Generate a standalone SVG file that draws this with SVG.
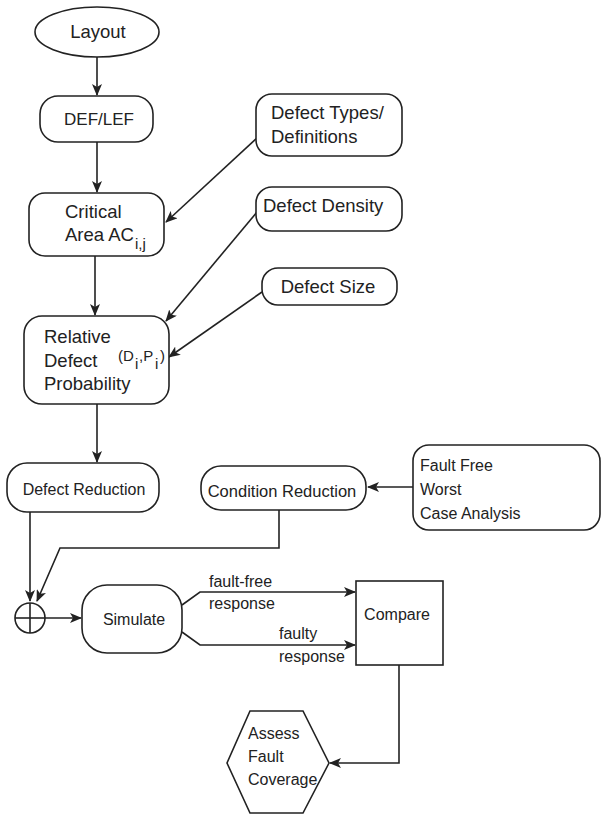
<svg xmlns="http://www.w3.org/2000/svg" width="608" height="817" viewBox="0 0 608 817">
<defs>
<marker id="ah" viewBox="0 0 12 10" refX="11" refY="5" markerWidth="12" markerHeight="10" markerUnits="userSpaceOnUse" orient="auto">
<path d="M0,0 L12,5 L0,10 L3,5 z" fill="#222"/>
</marker>
<style>
.n{fill:#fff;stroke:#222;stroke-width:1.6}
.c{fill:none;stroke:#222;stroke-width:1.6;marker-end:url(#ah)}
.l{fill:none;stroke:#222;stroke-width:1.6}
text{font-family:"Liberation Sans",Arial,sans-serif;font-size:16px;fill:#222}
.m{text-anchor:middle}
.b{font-size:18.5px}
.s{font-size:15px}
</style>
</defs>
<rect width="608" height="817" fill="#fff"/>
<g id="connectors">
<line class="c" x1="97" y1="57" x2="97" y2="95"/>
<line class="c" x1="97" y1="142" x2="97" y2="192"/>
<line class="c" x1="257" y1="138" x2="166" y2="222"/>
<line class="c" x1="257" y1="212" x2="166" y2="321"/>
<line class="c" x1="262" y1="292" x2="169" y2="357"/>
<line class="c" x1="95" y1="256" x2="95" y2="315"/>
<line class="c" x1="97" y1="404" x2="97" y2="462"/>
<line class="c" x1="413" y1="487" x2="368" y2="487"/>
<line class="c" x1="30" y1="512" x2="30" y2="601"/>
<polyline class="c" points="279,510 279,548 60,548 37,601"/>
<line class="c" x1="45" y1="618" x2="81" y2="618"/>
<polyline class="c" points="182,605 200,592 355,592"/>
<polyline class="c" points="182,632 200,645 355,645"/>
<polyline class="c" points="399,665 399,763 330,763"/>
</g>
<g id="layout"><ellipse class="n" cx="97" cy="32" rx="62" ry="25"/><text class="m b" x="98" y="38">Layout</text></g>
<g id="deflef"><rect class="n" x="40" y="96" width="113" height="46" rx="18"/><text class="m" x="99" y="125" style="font-size:17px">DEF/LEF</text></g>
<g id="critical"><rect class="n" x="29" y="193" width="135" height="63" rx="16"/><text class="b" x="65" y="218">Critical</text><text class="b" x="65" y="241">Area AC</text><text class="s" x="135" y="249">i,j</text></g>
<g id="types"><rect class="n" x="256" y="94" width="146" height="62" rx="16"/><text class="b" x="271" y="119">Defect Types/</text><text class="b" x="271" y="143">Definitions</text></g>
<g id="density"><rect class="n" x="256" y="187" width="146" height="44" rx="16"/><text class="b" x="263" y="212">Defect Density</text></g>
<g id="size"><rect class="n" x="262" y="268" width="135" height="37" rx="16"/><text class="m b" x="328" y="293">Defect Size</text></g>
<g id="relative"><rect class="n" x="24" y="316" width="145" height="88" rx="18"/><text class="b" x="44" y="343">Relative</text><text class="b" x="44" y="367">Defect</text><text class="b" x="44" y="390">Probability</text><text x="118" y="361" class="s">(D</text><text x="135" y="369" class="s">i</text><text x="139" y="361" class="s">,P</text><text x="155" y="369" class="s">i</text><text x="160" y="361" class="s">)</text></g>
<g id="defred"><rect class="n" x="7" y="463" width="152" height="49" rx="20"/><text class="m" x="84" y="495">Defect Reduction</text></g>
<g id="condred"><rect class="n" x="201" y="466" width="165" height="44" rx="20"/><text class="m" x="282" y="497" style="font-size:16.5px">Condition Reduction</text></g>
<g id="faultfree"><rect class="n" x="413" y="445" width="187" height="85" rx="16"/><text x="420" y="471">Fault Free</text><text x="420" y="495">Worst</text><text x="420" y="519">Case Analysis</text></g>
<g id="sum"><circle class="n" cx="30" cy="618" r="15"/><line class="l" x1="15" y1="618" x2="45" y2="618"/><line class="l" x1="30" y1="603" x2="30" y2="633"/></g>
<g id="simulate"><rect class="n" x="82" y="585" width="100" height="68" rx="25"/><text class="m" x="134" y="625">Simulate</text></g>
<g id="labels"><text x="209" y="587">fault-free</text><text x="209" y="609">response</text><text x="279" y="639">faulty</text><text x="279" y="662">response</text></g>
<g id="compare"><rect class="n" x="356" y="581" width="87" height="84"/><text class="m" x="397" y="620">Compare</text></g>
<g id="assess"><polygon class="n" points="250,711 303,711 329,763 303,813 250,813 227,763"/><text x="248" y="739">Assess</text><text x="248" y="762">Fault</text><text x="248" y="785">Coverage</text></g>
</svg>
